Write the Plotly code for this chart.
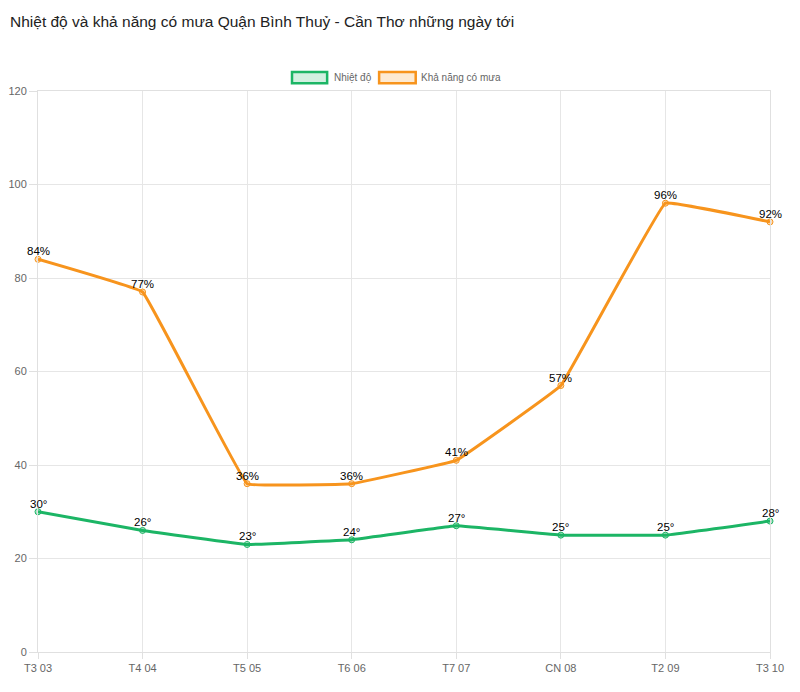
import plotly.graph_objects as go

days = ["T3 03", "T4 04", "T5 05", "T6 06", "T7 07", "CN 08", "T2 09", "T3 10"]
temperature = [30, 26, 23, 24, 27, 25, 25, 28]
rain_chance = [84, 77, 36, 36, 41, 57, 96, 92]

GREEN = "#1cb565"
ORANGE = "#f7941d"
FONT = "Liberation Sans, Arial, sans-serif"

x_idx = list(range(len(days)))

fig = go.Figure()
fig.add_trace(go.Scatter(
    x=x_idx, y=temperature, mode="lines+markers", name="Nhiệt độ",
    line=dict(color=GREEN, width=3, shape="spline", smoothing=0.15),
    marker=dict(size=6, color="rgba(28,181,101,0.35)", line=dict(color=GREEN, width=1)),
    cliponaxis=False,
))
fig.add_trace(go.Scatter(
    x=x_idx, y=rain_chance, mode="lines+markers", name="Khả năng có mưa",
    line=dict(color=ORANGE, width=3, shape="spline", smoothing=0.15),
    marker=dict(size=6, color="rgba(247,148,29,0.3)", line=dict(color=ORANGE, width=1)),
    cliponaxis=False,
))

# data labels just above each point
for series, suffix in ((temperature, "°"), (rain_chance, "%")):
    for xi, v in zip(x_idx, series):
        fig.add_annotation(x=xi, y=v, text=f"{v}{suffix}", showarrow=False,
                           xanchor="center", yanchor="bottom", yshift=0,
                           font=dict(size=11.5, color="#000", family=FONT))

# custom legend boxes (Chart.js style)
legend_items = [("Nhiệt độ", GREEN, "rgba(28,181,101,0.2)", 0.347, 0.395, 0.402),
                ("Khả năng có mưa", ORANGE, "rgba(247,148,29,0.2)", 0.466, 0.516, 0.521)]
for label, col, fill, x0, x1, xt in legend_items:
    fig.add_shape(type="rect", xref="paper", yref="paper",
                  x0=x0, x1=x1, y0=1.014, y1=1.034,
                  line=dict(color=col, width=2.5), fillcolor=fill)
    fig.add_annotation(xref="paper", yref="paper", x=xt, y=1.024,
                       text=label, showarrow=False, xanchor="left", yanchor="middle",
                       font=dict(size=10, color="#666", family=FONT))

fig.update_layout(
    width=800, height=692,
    margin=dict(l=38, r=30, t=91, b=40, autoexpand=False),
    paper_bgcolor="white", plot_bgcolor="white",
    showlegend=False,
    title=dict(text="Nhiệt độ và khả năng có mưa Quận Bình Thuỷ - Cần Thơ những ngày tới",
               x=0.0125, xanchor="left", y=0.969, yanchor="middle",
               font=dict(size=15.5, color="#222", family=FONT)),
    xaxis=dict(range=[0, 7], tickmode="array", tickvals=x_idx, ticktext=days,
               showgrid=True, gridcolor="#e6e6e6", gridwidth=1,
               showline=True, linecolor="#e0e0e0", mirror=True,
               ticks="outside", ticklen=6, tickcolor="#e0e0e0",
               tickfont=dict(size=11, color="#666", family=FONT), zeroline=False,
               automargin=False),
    yaxis=dict(range=[0, 120], dtick=20, showgrid=True, gridcolor="#e6e6e6",
               showline=True, linecolor="#e0e0e0", mirror=True,
               ticks="outside", ticklen=8, tickcolor="#e0e0e0",
               tickfont=dict(size=11, color="#666", family=FONT), zeroline=False,
               automargin=False),
)

fig.write_html("out.html")
